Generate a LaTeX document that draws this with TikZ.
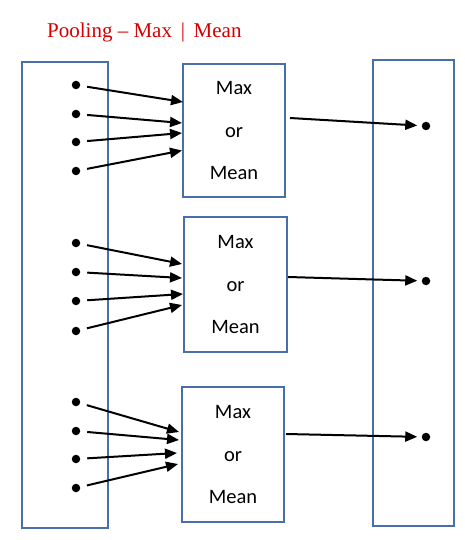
\documentclass[tikz,border=0pt]{standalone}
\usepackage{fontspec}
\setmainfont{Carlito}
\newfontfamily\titlefont{Liberation Serif}
\usetikzlibrary{arrows.meta,calc}
\definecolor{boxblue}{RGB}{72,110,172}
\definecolor{titlered}{RGB}{212,0,0}
\tikzset{
  frame/.style={draw=boxblue,line width=2pt,inner sep=0pt,outer sep=0pt},
  poolbox/.style={frame,align=center,font=\fontsize{20.5}{42.5}\selectfont},
  dot/.style={circle,fill=black,inner sep=0pt,outer sep=0pt,minimum size=8.5pt},
  arr/.style={line width=2pt,-{Triangle[length=12pt,width=10pt]}},
  inarr/.style={arr,shorten <=7pt},
  outarr/.style={arr,shorten >=4.5pt}
}
\begin{document}
\begin{tikzpicture}[x=1pt,y=-1pt]
\useasboundingbox (0,0) rectangle (465,540);
% title
\node[anchor=base west,inner sep=0pt,text=titlered,font=\titlefont\fontsize{21}{24}\selectfont] (title) at (47,38) {Pooling – Max \,|\, Mean};
% outer columns
\node[frame,minimum width=86pt,minimum height=466pt] (L) at (65,295) {};
\node[frame,minimum width=81pt,minimum height=466pt] (R) at (413.5,293) {};
% pooling boxes
\node[poolbox,minimum width=102pt,minimum height=133pt] (B1) at (234,130.5) {Max\\or\\Mean};
\node[poolbox,minimum width=103pt,minimum height=135pt] (B2) at (235.5,284.5) {Max\\or\\Mean};
\node[poolbox,minimum width=102pt,minimum height=135pt] (B3) at (233,454.5) {Max\\or\\Mean};
% input dots
\node[dot] (d11) at (76,85) {};
\node[dot] (d12) at (76,114) {};
\node[dot] (d13) at (76,142) {};
\node[dot] (d14) at (76,171) {};
\node[dot] (d21) at (76,243) {};
\node[dot] (d22) at (76,272) {};
\node[dot] (d23) at (76,301) {};
\node[dot] (d24) at (76,331) {};
\node[dot] (d31) at (76,402) {};
\node[dot] (d32) at (76,431) {};
\node[dot] (d33) at (76,459) {};
\node[dot] (d34) at (76,488) {};
% output dots
\node[dot] (o1) at (426,126) {};
\node[dot] (o2) at (426,281) {};
\node[dot] (o3) at (426,437) {};
% arrow targets on box edges
\coordinate (t11) at ($(B1.north west)+(0,38)$);
\coordinate (t12) at ($(B1.north west)+(-1,59)$);
\coordinate (t13) at ($(B1.north west)+(-1,69)$);
\coordinate (t14) at ($(B1.north west)+(-1,86.5)$);
\coordinate (t21) at ($(B2.north west)+(-2,47)$);
\coordinate (t22) at ($(B2.north west)+(-2,61)$);
\coordinate (t23) at ($(B2.north west)+(-1,77)$);
\coordinate (t24) at ($(B2.north west)+(-2,88)$);
\coordinate (t31) at ($(B3.north west)+(-3,45)$);
\coordinate (t32) at ($(B3.north west)+(-3,53)$);
\coordinate (t33) at ($(B3.north west)+(-5,66)$);
\coordinate (t34) at ($(B3.north west)+(-4,77)$);
% output arrow starts
\coordinate (s1) at ($(B1.east)+(5,-12.5)$);
\coordinate (s2) at ($(B2.east)+(1,-7.5)$);
\coordinate (s3) at ($(B3.east)+(2,-20.5)$);
% arrows
\foreach \g in {1,2,3}{
  \foreach \k in {1,2,3,4}{
    \draw[inarr] (d\g\k) -- (t\g\k);
  }
  \draw[outarr] (s\g) -- (o\g);
}
\end{tikzpicture}
\end{document}
